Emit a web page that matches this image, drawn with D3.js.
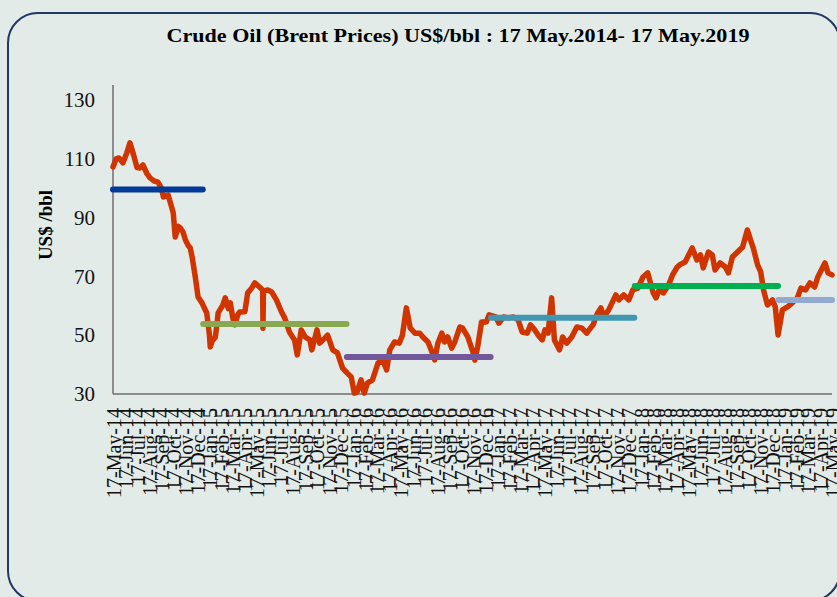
<!DOCTYPE html>
<html>
<head>
<meta charset="utf-8">
<script src="https://cdn.jsdelivr.net/npm/d3@7"></script>
<style>
  body { margin: 0; background: #e3ebe9; }
  svg { display: block; }
</style>
</head>
<body>
<div id="chart"></div>
<script>
// Chart Params
var svgWidth = 837;
var svgHeight = 597;

// Brent price (date, US$/bbl)
var priceDates = [
  "2014-05-17","2014-05-25","2014-06-01","2014-06-11","2014-06-21","2014-06-29","2014-07-09","2014-07-17",
  "2014-07-24","2014-08-01","2014-08-11","2014-08-19","2014-08-29","2014-09-08","2014-09-17","2014-09-22",
  "2014-09-30","2014-10-04","2014-10-12","2014-10-17","2014-10-22","2014-10-30","2014-11-04","2014-11-11",
  "2014-11-17","2014-11-24","2014-11-29","2014-12-04","2014-12-12","2014-12-19","2014-12-29","2015-01-05",
  "2015-01-10","2015-01-17","2015-01-19","2015-01-24","2015-02-01","2015-02-06","2015-02-08","2015-02-19",
  "2015-02-26","2015-03-06","2015-03-11","2015-03-17","2015-03-22","2015-03-30","2015-04-04","2015-04-17",
  "2015-04-24","2015-05-04","2015-05-12","2015-05-24","2015-06-01","2015-06-02","2015-06-03","2015-06-14",
  "2015-06-24","2015-07-06","2015-07-19","2015-07-27","2015-08-08","2015-08-21","2015-08-28","2015-09-07",
  "2015-09-17","2015-09-29","2015-10-04","2015-10-17","2015-10-24","2015-11-06","2015-11-13","2015-11-26",
  "2015-12-08","2015-12-21","2016-01-02","2016-01-12","2016-01-20","2016-01-27","2016-02-06","2016-02-14",
  "2016-02-22","2016-03-06","2016-03-20","2016-04-01","2016-04-11","2016-04-19","2016-05-01","2016-05-13",
  "2016-05-21","2016-05-31","2016-06-02","2016-06-10","2016-06-22","2016-07-04","2016-07-12","2016-07-25",
  "2016-08-04","2016-08-11","2016-08-19","2016-08-29","2016-09-05","2016-09-13","2016-09-23","2016-10-01",
  "2016-10-14","2016-10-21","2016-11-03","2016-11-16","2016-11-21","2016-11-28","2016-12-08","2016-12-20",
  "2016-12-27","2017-01-13","2017-01-21","2017-02-02","2017-02-14","2017-02-27","2017-03-11","2017-03-21",
  "2017-04-03","2017-04-11","2017-04-21","2017-05-01","2017-05-11","2017-05-18","2017-05-26","2017-06-04",
  "2017-06-06","2017-06-11","2017-06-24","2017-07-02","2017-07-12","2017-07-25","2017-08-07","2017-08-20",
  "2017-09-01","2017-09-17","2017-09-29","2017-10-07","2017-10-14","2017-10-27","2017-11-14","2017-11-22",
  "2017-12-04","2017-12-17","2017-12-27","2018-01-09","2018-01-22","2018-02-03","2018-02-17","2018-02-24",
  "2018-03-04","2018-03-15","2018-03-28","2018-04-07","2018-04-19","2018-04-26","2018-05-09","2018-05-27",
  "2018-06-08","2018-06-17","2018-06-24","2018-07-07","2018-07-17","2018-07-24","2018-08-06","2018-08-19",
  "2018-08-27","2018-09-06","2018-09-19","2018-10-02","2018-10-14","2018-10-22","2018-10-29","2018-11-09",
  "2018-11-17","2018-11-24","2018-12-04","2018-12-17","2018-12-24","2018-12-31","2019-01-11","2019-01-24",
  "2019-02-05","2019-02-18","2019-02-27","2019-03-11","2019-03-22","2019-04-03","2019-04-11","2019-04-29",
  "2019-05-07","2019-05-17"
];
var priceValues = [
  107.2,110,110.3,108.6,112,115.4,111,107,
  106.9,107.9,105,103.5,102.5,102.1,100,97,
  97.5,97.7,94,91.6,83.4,87,86.5,85,
  82.4,80.5,79.7,76.6,69.8,63,61,59,
  57.6,50,46,48,49.4,55,57.6,60,
  62.7,59,61,56,53.5,57,57.9,58,
  64.4,66,67.8,66.4,65.4,52.4,65,65.4,
  64.7,62,57.9,55.9,51.1,48.4,43.3,51.8,
  49.4,48.4,45,51.8,47.3,49,50,45,
  44,38.8,37.1,35.8,30.3,30.7,34.8,30.3,
  33.7,34.8,40.5,41.6,38.2,45,47.7,47.3,
  50,59.3,58,52.4,50.7,50.7,49.4,47.7,
  44.3,41.6,47.3,50.7,47.7,49.4,45.6,47.7,
  52.8,52.4,49.4,44.3,41.5,46,54.5,54.5,
  56.9,56.2,54.1,56.2,55.9,56.2,55.2,51.1,
  50.7,53.5,52,50,48.4,51.8,50.7,62.7,
  58.6,48.4,45,49.4,47.3,49.4,52.8,52.4,
  50.7,53.5,57.6,59.3,56.2,58.6,63.7,62,
  63.7,62,65.4,66,69.8,71.2,64.4,62.7,
  65.4,64.4,67.1,70.5,73.2,74,74.9,79.7,
  75.6,77.3,72.9,78.3,77.3,72.2,74.6,73.2,
  71.2,76.6,78.3,80,85.8,82.4,79.7,73.9,
  71.5,65.4,60.3,62,59.6,50.1,58.6,59.6,
  61,62.7,66,65.4,67.8,66.4,69.8,74.6,
  71.2,70.5
];

// yearly averages
var avgStart = ["2014-05-17","2015-01-01","2016-01-01","2017-01-01","2018-01-01","2019-01-01"];
var avgEnd   = ["2014-12-31","2015-12-31","2016-12-31","2017-12-31","2018-12-31","2019-05-17"];
var avgValues = [99.6, 53.8, 42.6, 55.9, 66.7, 62];
var avgColors = ["#003a99", "#8aa84f", "#72579a", "#3f97b2", "#00b050", "#93a9cf"];

var yTicks = [30, 50, 70, 90, 110, 130];

var parseDate = d3.timeParse("%Y-%m-%d");
var formatTick = d3.timeFormat("%-d-%b-%y");

var startDate = parseDate("2014-05-17");
var endDate = parseDate("2019-05-17");
var tickDates = d3.timeMonth.range(parseDate("2014-05-01"), parseDate("2019-05-02"))
  .map(d => new Date(d.getFullYear(), d.getMonth(), 17));

var svg = d3.select("#chart")
  .append("svg")
  .attr("width", svgWidth)
  .attr("height", svgHeight);

// rounded frame
svg.append("rect")
  .attr("x", 8)
  .attr("y", 13)
  .attr("width", 832)
  .attr("height", 588)
  .attr("rx", 30)
  .attr("fill", "#e3ebe9")
  .attr("stroke", "#203864")
  .attr("stroke-width", 2);

// scales
var xScale = d3.scaleTime()
  .domain([startDate, endDate])
  .range([113, 832]);

var yScale = d3.scaleLinear()
  .domain([30, 130])
  .range([394, 100]);

// title
svg.append("text")
  .attr("x", 458)
  .attr("y", 42)
  .attr("text-anchor", "middle")
  .attr("font-family", "'Liberation Serif', 'DejaVu Serif', serif")
  .attr("font-weight", "bold")
  .attr("font-size", "19px")
  .attr("textLength", 583)
  .attr("lengthAdjust", "spacingAndGlyphs")
  .text("Crude Oil (Brent Prices) US$/bbl : 17 May.2014- 17 May.2019");

// y axis title
svg.append("text")
  .attr("transform", "translate(52, 225) rotate(-90)")
  .attr("text-anchor", "middle")
  .attr("font-family", "'Liberation Serif', 'DejaVu Serif', serif")
  .attr("font-weight", "bold")
  .attr("font-size", "19px")
  .text("US$ /bbl");

// y axis
var leftAxis = d3.axisLeft(yScale).tickValues(yTicks).tickSize(0).tickPadding(18);
var yAxis = svg.append("g")
  .attr("transform", "translate(113, 0)")
  .call(leftAxis);
yAxis.select(".domain").remove();
yAxis.selectAll("text")
  .attr("font-family", "'Liberation Serif', 'DejaVu Serif', serif")
  .attr("font-size", "21px")
  .attr("fill", "#111");

svg.append("line")
  .attr("x1", 113).attr("x2", 113)
  .attr("y1", 85).attr("y2", 394)
  .attr("stroke", "#8c8c8c")
  .attr("stroke-width", 2);

// x axis
var bottomAxis = d3.axisBottom(xScale).tickValues(tickDates).tickFormat(formatTick).tickSize(0);
var xAxis = svg.append("g")
  .attr("transform", "translate(0, 394)")
  .call(bottomAxis);
xAxis.select(".domain").remove();
xAxis.selectAll("text")
  .attr("font-family", "'Liberation Serif', 'DejaVu Serif', serif")
  .attr("font-size", "20px")
  .attr("fill", "#111")
  .attr("text-anchor", "end")
  .attr("transform", "rotate(-90)")
  .attr("x", -14)
  .attr("y", 0)
  .attr("dy", "0.35em");

svg.append("line")
  .attr("x1", 113).attr("x2", 832)
  .attr("y1", 394).attr("y2", 394)
  .attr("stroke", "#8c8c8c")
  .attr("stroke-width", 2);

// price line
var priceData = priceDates.map((d, i) => ({ date: parseDate(d), value: priceValues[i] }));

var line = d3.line()
  .x(d => xScale(d.date))
  .y(d => yScale(d.value));

svg.append("path")
  .datum(priceData)
  .attr("d", line)
  .attr("fill", "none")
  .attr("stroke", "#d03500")
  .attr("stroke-width", 5.5)
  .attr("stroke-linejoin", "round")
  .attr("stroke-linecap", "round");

// average lines
svg.selectAll(".avg")
  .data(avgValues)
  .enter()
  .append("line")
  .attr("class", "avg")
  .attr("x1", (d, i) => xScale(parseDate(avgStart[i])))
  .attr("x2", (d, i) => xScale(parseDate(avgEnd[i])))
  .attr("y1", d => yScale(d))
  .attr("y2", d => yScale(d))
  .attr("stroke", (d, i) => avgColors[i])
  .attr("stroke-width", 6)
  .attr("stroke-linecap", "round");
</script>
</body>
</html>
